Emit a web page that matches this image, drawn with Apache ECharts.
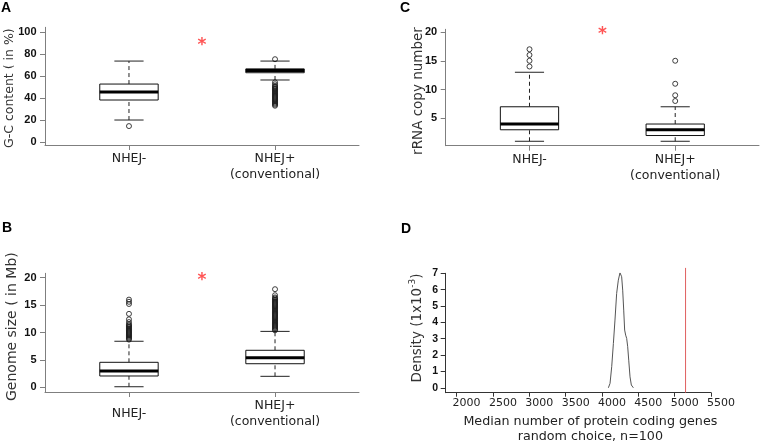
<!DOCTYPE html>
<html>
<head>
<meta charset="utf-8">
<script src="https://cdn.jsdelivr.net/npm/echarts@6/dist/echarts.min.js"></script>
<style>
  html, body { margin: 0; padding: 0; background: #fff; }
  #chart { width: 760px; height: 443px; }
</style>
</head>
<body>
<div id="chart"></div>
<script>
// categories of the three box plots
const groups = ['NHEJ-', 'NHEJ+\n(conventional)'];

// box stats per group: [lower whisker, Q1, median, Q3, upper whisker]
const gcBox = [[20, 38.2, 45.5, 52.7, 73.6], [56.4, 63, 65, 66.5, 73.6]];
const gcOutNeg = [14.5];
const gcOutPos = [75.3, 54.3, 52.5, 51, 50, 49, 48, 47, 46, 45, 44, 43, 42, 41, 40, 39, 38, 37, 36, 35, 34, 33];

const sizeBox = [[0.1, 2.06, 2.97, 4.56, 8.4], [2.0, 4.3, 5.4, 6.75, 10.2]];
const sizeOutNeg = [16.0, 15.6, 15.2, 13.4, 12.4, 11.9, 11.5, 11.3, 11.1, 10.9, 10.7, 10.5, 10.3, 10.1, 9.9, 9.7, 9.5, 9.3, 9.1, 8.9, 8.7];
const sizeOutPos = [17.9, 16.8, 16.4, 16.2, 16.0, 15.8, 15.6, 15.4, 15.2, 15.0, 14.8, 14.6, 14.4, 14.2, 14.0, 13.8, 13.6, 13.4, 13.2, 13.0, 12.8, 12.6, 12.4, 12.2, 12.0, 11.8, 11.6, 11.4, 11.2, 11.0, 10.8, 10.6, 10.4];

const rrnaBox = [[1, 3, 4, 7, 13], [1, 2, 3, 4, 7]];
const rrnaOutNeg = [14, 15, 16, 17];
const rrnaOutPos = [8, 9, 11, 15];

// panel D: density of median protein coding genes (x10^-3)
const densX = [4088, 4111, 4134, 4157, 4179, 4202, 4225, 4248, 4257, 4271, 4285, 4299, 4312, 4326, 4340, 4354, 4368, 4386, 4404, 4432];
const densY = [0, 0.27, 1.29, 2.71, 4.14, 5.77, 6.58, 7.03, 7.05, 6.79, 5.97, 4.75, 3.53, 3.22, 3.02, 2.51, 1.69, 0.67, 0.17, 0];
const observedX = 5150;

// tick labels
const gcTicks = [0, 20, 40, 60, 80, 100];
const sizeTicks = [0, 5, 10, 15, 20];
const rrnaTicks = [5, 10, 15, 20];
const densTicks = [0, 1, 2, 3, 4, 5, 6, 7];
const geneTicks = [2000, 2500, 3000, 3500, 4000, 4500, 5000, 5500];

const AXIS_GRAY = '#7f7f7f';
const tickFont = { fontFamily: 'Liberation Sans', fontWeight: 'bold', fontSize: 11, color: '#111' };

const GENE_MIN = 1850, GENE_MAX = 5500;

function boxItem(params, api) {
  const x = api.value(0);
  const lo = api.coord([x, api.value(1)]);
  const q1 = api.coord([x, api.value(2)]);
  const md = api.coord([x, api.value(3)]);
  const q3 = api.coord([x, api.value(4)]);
  const hi = api.coord([x, api.value(5)]);
  const half = api.size([0.2, 0])[0];
  const cap = half / 2;
  const cx = lo[0];
  const dash = { stroke: '#222', lineWidth: 1, lineDash: [4, 3] };
  const solid = { stroke: '#222', lineWidth: 1 };
  return {
    type: 'group',
    children: [
      { type: 'line', shape: { x1: cx, y1: q3[1], x2: cx, y2: hi[1] }, style: dash },
      { type: 'line', shape: { x1: cx, y1: lo[1], x2: cx, y2: q1[1] }, style: dash },
      { type: 'line', shape: { x1: cx - cap, y1: hi[1], x2: cx + cap, y2: hi[1] }, style: solid },
      { type: 'line', shape: { x1: cx - cap, y1: lo[1], x2: cx + cap, y2: lo[1] }, style: solid },
      { type: 'rect', shape: { x: cx - half, y: q3[1], width: half * 2, height: q1[1] - q3[1] },
        style: { fill: '#fff', stroke: '#111', lineWidth: 1 } },
      { type: 'line', shape: { x1: cx - half, y1: md[1], x2: cx + half, y2: md[1] },
        style: { stroke: '#000', lineWidth: 3 } }
    ]
  };
}

function boxSeries(idx, box) {
  return {
    type: 'custom',
    xAxisIndex: idx, yAxisIndex: idx,
    renderItem: boxItem,
    encode: { x: 0, y: [1, 2, 3, 4, 5] },
    data: box.map((b, i) => [i + 1].concat(b)),
    silent: true
  };
}

function outlierSeries(idx, neg, pos) {
  return {
    type: 'scatter',
    xAxisIndex: idx, yAxisIndex: idx,
    symbol: 'circle', symbolSize: 5,
    itemStyle: { color: 'rgba(0,0,0,0)', borderColor: '#111', borderWidth: 1 },
    data: neg.map(v => [1, v]).concat(pos.map(v => [2, v])),
    silent: true
  };
}

function starSeries(idx, y) {
  return {
    type: 'scatter',
    xAxisIndex: idx, yAxisIndex: idx,
    symbolSize: 1,
    itemStyle: { color: 'rgba(0,0,0,0)' },
    label: { show: true, position: 'inside', formatter: '*', color: '#ff2a2a',
      fontSize: 17, fontWeight: 'bold', fontFamily: 'DejaVu Sans', offset: [0, 3] },
    data: [[1.5, y]],
    silent: true
  };
}

function groupAxis(idx, centred) {
  const base = { fontFamily: 'DejaVu Sans', fontSize: 12.5, lineHeight: 16, color: '#222' };
  return {
    gridIndex: idx, type: 'value', min: 0.425, max: 2.575,
    axisLine: { show: true, onZero: false, lineStyle: { color: AXIS_GRAY } },
    axisTick: { show: true, customValues: [1, 2], length: 5, lineStyle: { color: AXIS_GRAY } },
    axisLabel: Object.assign({
      customValues: [1, 2], margin: 6, interval: 0,
      formatter: v => (centred && v === 1) ? '{one|' + groups[0] + '}' : groups[v - 1],
      rich: { one: Object.assign({}, base, { lineHeight: 32 }) }
    }, base),
    splitLine: { show: false }
  };
}

function valueAxis(idx, min, max, ticks, name, nameSize, nameGap, namePad) {
  return {
    gridIndex: idx, type: 'value', min: min, max: max,
    name: name, nameLocation: 'middle', nameGap: nameGap, nameMoveOverlap: false,
    nameTextStyle: { fontFamily: 'DejaVu Sans', fontSize: nameSize, color: '#333', padding: namePad },
    axisLine: { show: true, onZero: false, lineStyle: { color: AXIS_GRAY } },
    axisTick: { show: true, customValues: ticks, length: 5, lineStyle: { color: AXIS_GRAY } },
    axisLabel: Object.assign({ customValues: ticks, margin: 8.5, interval: 0, formatter: v => String(v) }, tickFont),
    splitLine: { show: false }
  };
}

const panelTitle = (t, left, top) => ({
  text: t, left: left, top: top, padding: 0,
  textStyle: { fontFamily: 'Liberation Sans', fontWeight: 'bold', fontSize: 14, color: '#000' }
});

const chart = echarts.init(document.getElementById('chart'), null, { renderer: 'canvas' });

chart.setOption({
  animation: false,
  backgroundColor: '#fff',
  textStyle: { fontFamily: 'DejaVu Sans' },
  title: [
    panelTitle('A', 1, 1),
    panelTitle('B', 2, 221),
    panelTitle('C', 400, 1),
    panelTitle('D', 401, 222)
  ],
  grid: [
    { left: 45, top: 27.3, width: 314, height: 117.7, outerBoundsMode: 'none' },
    { left: 45, top: 273.3, width: 314, height: 118.7, outerBoundsMode: 'none' },
    { left: 445.7, top: 29.3, width: 313.3, height: 116.4, outerBoundsMode: 'none' },
    { left: 445.7, top: 273.3, width: 265.3, height: 119.4, outerBoundsMode: 'none' },
    // the printed gene-count labels sit ~10px right of their ticks
    { left: 455.7, top: 273.3, width: 265.3, height: 119.4, outerBoundsMode: 'none' }
  ],
  xAxis: [
    groupAxis(0, false),
    groupAxis(1, true),
    groupAxis(2, false),
    {
      gridIndex: 3, type: 'value', min: GENE_MIN, max: GENE_MAX,
      name: 'Median number of protein coding genes\nrandom choice, n=100',
      nameLocation: 'middle', nameGap: 21, nameMoveOverlap: false,
      nameTextStyle: { fontFamily: 'DejaVu Sans', fontSize: 12.7, lineHeight: 15.6, color: '#222', padding: [0, 0, 0, 24] },
      axisLine: { show: true, onZero: false, lineStyle: { color: '#333' } },
      axisTick: { show: true, customValues: geneTicks, length: 4, lineStyle: { color: '#333' } },
      axisLabel: { show: false },
      splitLine: { show: false }
    },
    {
      gridIndex: 4, type: 'value', min: GENE_MIN, max: GENE_MAX,
      axisLine: { show: false }, axisTick: { show: false }, splitLine: { show: false },
      axisLabel: { customValues: geneTicks, margin: 3.5, interval: 0, fontFamily: 'DejaVu Sans', fontSize: 11,
        lineHeight: 13, color: '#222', formatter: v => String(v),
        showMinLabel: true, showMaxLabel: true, hideOverlap: false }
    }
  ],
  yAxis: [
    valueAxis(0, -2.7, 104.3, gcTicks, 'G-C content ( in %)', 12.5, 28.5, [0, 4, 0, 0]),
    valueAxis(1, -0.86, 20.8, sizeTicks, 'Genome size ( in Mb)', 14, 26, [0, 0, 0, 12]),
    valueAxis(2, 0.23, 20.47, rrnaTicks, 'rRNA copy number', 13.5, 20, [0, 7, 0, 0]),
    {
      gridIndex: 3, type: 'value', min: -0.3, max: 7,
      name: 'Density (1x10{sup|-3})', nameLocation: 'middle', nameGap: 19.5, nameMoveOverlap: false,
      nameTextStyle: { fontFamily: 'DejaVu Sans', fontSize: 13.5, lineHeight: 18, color: '#333', padding: [0, 0, 0, 10],
        rich: { sup: { fontFamily: 'DejaVu Sans', fontSize: 9, color: '#333', verticalAlign: 'top' } } },
      axisLine: { show: true, onZero: false, lineStyle: { color: '#333' } },
      axisTick: { show: true, customValues: densTicks, length: 5, lineStyle: { color: '#333' } },
      axisLabel: Object.assign({ customValues: densTicks, margin: 7.7, interval: 0, formatter: v => String(v) }, tickFont, { fontSize: 10.5 }),
      splitLine: { show: false }
    },
    { gridIndex: 4, type: 'value', min: -0.3, max: 7, show: false }
  ],
  series: [
    boxSeries(0, gcBox),
    outlierSeries(0, gcOutNeg, gcOutPos),
    starSeries(0, 90),
    boxSeries(1, sizeBox),
    outlierSeries(1, sizeOutNeg, sizeOutPos),
    starSeries(1, 20),
    boxSeries(2, rrnaBox),
    outlierSeries(2, rrnaOutNeg, rrnaOutPos),
    starSeries(2, 20),
    {
      type: 'line', xAxisIndex: 3, yAxisIndex: 3,
      symbol: 'none', smooth: false,
      lineStyle: { color: '#555', width: 1 },
      data: densX.map((x, i) => [x, densY[i]]),
      silent: true
    },
    {
      type: 'line', xAxisIndex: 3, yAxisIndex: 3,
      symbol: 'none', clip: false,
      lineStyle: { color: '#e06060', width: 1 },
      data: [[observedX, -0.3], [observedX, 7.33]],
      silent: true
    }
  ]
});
</script>
</body>
</html>
